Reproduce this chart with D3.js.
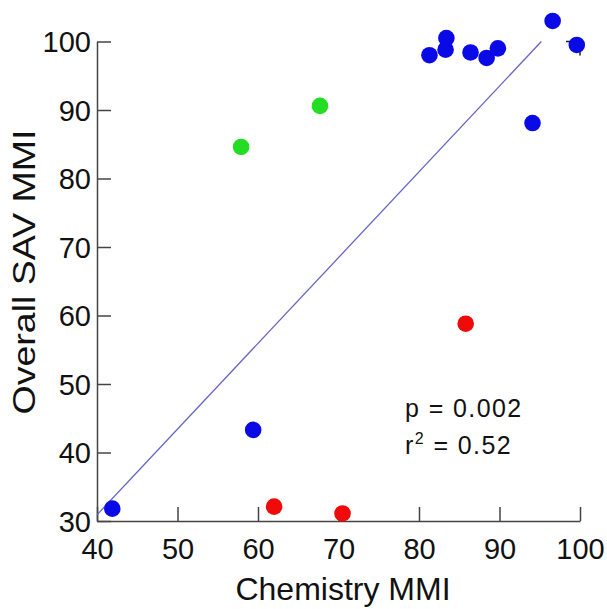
<!DOCTYPE html>
<html>
<head>
<meta charset="utf-8">
<script src="https://cdn.jsdelivr.net/npm/d3@7"></script>
<style>
  body { margin: 0; background: #fff; }
  text { font-family: "Liberation Sans", Arial, sans-serif; fill: #111; }
</style>
</head>
<body>
<svg id="chart" width="607" height="609"></svg>
<script>
// Chemistry MMI (x) vs Overall SAV MMI (y)
const bluePoints = [
  [41.9, 31.8], [59.4, 43.3], [81.3, 98.0], [83.4, 100.5], [83.3, 98.8],
  [86.4, 98.4], [88.4, 97.6], [89.8, 99.0], [96.6, 103.0], [99.6, 99.5],
  [94.1, 88.1]
];
const greenPoints = [[57.9, 84.6], [67.7, 90.6]];
const redPoints = [[62.0, 32.1], [70.5, 31.1], [85.8, 58.8]];

// regression line end points
const fitLine = [[40, 30.9], [95.2, 100]];

const xTicks = [40, 50, 60, 70, 80, 90, 100];
const yTicks = [30, 40, 50, 60, 70, 80, 90, 100];

const svg = d3.select("#chart");

const x = d3.scaleLinear().domain([40, 100]).range([97, 580]);
const y = d3.scaleLinear().domain([30, 100]).range([521, 41.5]);

// axes (ticks point inward, no box)
const xAxis = svg.append("g")
  .attr("transform", `translate(0,${y(30)})`)
  .call(d3.axisBottom(x).tickValues(xTicks).tickSize(-14).tickPadding(0).tickSizeOuter(0).tickFormat(d3.format("d")));
const yAxis = svg.append("g")
  .attr("transform", `translate(${x(40)},0)`)
  .call(d3.axisLeft(y).tickValues(yTicks).tickSize(-14).tickPadding(6).tickSizeOuter(0).tickFormat(d3.format("d")));

[xAxis, yAxis].forEach(g => {
  g.select(".domain").attr("stroke", "#444").attr("stroke-width", 1.5);
  g.selectAll(".tick line").attr("stroke", "#444").attr("stroke-width", 1.5);
  g.selectAll(".tick text")
    .attr("font-size", 29)
    .attr("font-family", "Liberation Sans, Arial, sans-serif")
    .attr("fill", "#111");
});
xAxis.selectAll(".tick text").attr("dy", "1.3em");
yAxis.selectAll(".tick text").attr("dy", "0.36em");

// small corner ticks of the hidden top/right axes, mostly covered by a point
svg.append("line")
  .attr("x1", x(100)).attr("x2", x(100))
  .attr("y1", y(100)).attr("y2", y(100) + 14)
  .attr("stroke", "#222").attr("stroke-width", 1.5);
svg.append("line")
  .attr("x1", x(100)).attr("x2", x(100) - 14)
  .attr("y1", y(100)).attr("y2", y(100))
  .attr("stroke", "#222").attr("stroke-width", 1.5);

// regression line
svg.append("line")
  .attr("x1", x(fitLine[0][0])).attr("y1", y(fitLine[0][1]))
  .attr("x2", x(fitLine[1][0])).attr("y2", y(fitLine[1][1]))
  .attr("stroke", "#6464c8").attr("stroke-width", 1.3);

// points
function drawPoints(data, color) {
  svg.append("g").selectAll("circle")
    .data(data)
    .enter()
    .append("circle")
    .attr("cx", d => x(d[0]))
    .attr("cy", d => y(d[1]))
    .attr("r", 8.3)
    .attr("fill", color);
}
drawPoints(bluePoints, "#0a0ae6");
drawPoints(greenPoints, "#22dd22");
drawPoints(redPoints, "#f00a0a");

// axis titles
svg.append("text")
  .attr("x", 343).attr("y", 600)
  .attr("text-anchor", "middle")
  .attr("font-size", 32)
  .text("Chemistry MMI");
svg.append("text")
  .attr("transform", "translate(35,272) rotate(-90)")
  .attr("text-anchor", "middle")
  .attr("font-size", 31)
  .attr("textLength", 285)
  .attr("lengthAdjust", "spacingAndGlyphs")
  .text("Overall SAV MMI");

// statistics
svg.append("text").attr("x", 405).attr("y", 417)
  .attr("font-size", 25).attr("letter-spacing", 1.4)
  .text("p = 0.002");
const r2 = svg.append("text").attr("x", 405).attr("y", 454)
  .attr("font-size", 25).attr("letter-spacing", 1.4);
r2.append("tspan").text("r");
r2.append("tspan").attr("font-size", 16).attr("dy", -10).text("2");
r2.append("tspan").attr("dy", 10).text(" = 0.52");
</script>
</body>
</html>
